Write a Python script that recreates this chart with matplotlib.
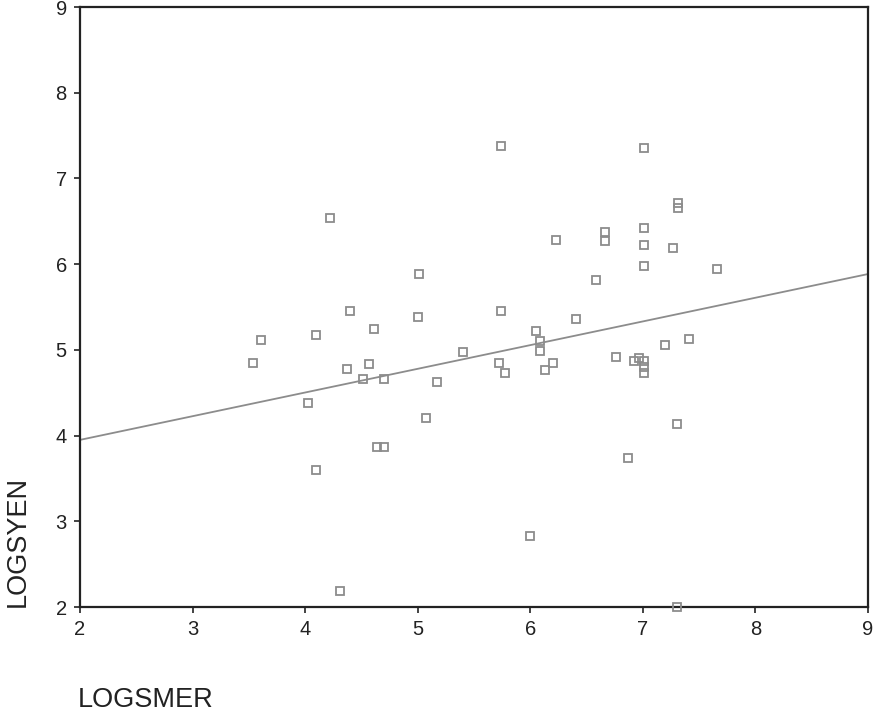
import matplotlib
matplotlib.use('Agg')
import matplotlib.pyplot as plt
import numpy as np

plt.rcParams['font.family'] = ['Liberation Sans', 'DejaVu Sans']

# Data (LOGSMER vs LOGSYEN)
logsmer = [5.74, 7.01, 4.22, 7.31, 7.31, 7.01, 6.66, 6.66, 6.23, 7.01,
           7.27, 7.01, 7.66, 5.01, 6.58, 5.74, 4.40, 5.00, 6.41, 4.61,
           6.05, 4.10, 3.61, 7.41, 6.09, 7.20, 6.09, 5.40, 6.76, 6.97,
           6.92, 7.01, 7.01, 7.01, 5.72, 6.20, 3.54, 4.57, 4.37, 6.13,
           5.78, 4.51, 4.70, 5.17, 4.03, 5.07, 7.30, 4.64, 4.70, 6.87,
           4.10, 6.00, 4.31, 7.30]
logsyen = [7.38, 7.35, 6.54, 6.71, 6.65, 6.42, 6.38, 6.27, 6.28, 6.22,
           6.19, 5.98, 5.94, 5.89, 5.82, 5.45, 5.45, 5.38, 5.36, 5.24,
           5.22, 5.17, 5.11, 5.13, 5.10, 5.06, 4.99, 4.97, 4.92, 4.91,
           4.87, 4.87, 4.80, 4.73, 4.85, 4.85, 4.85, 4.83, 4.78, 4.76,
           4.73, 4.66, 4.66, 4.62, 4.38, 4.20, 4.13, 3.87, 3.87, 3.74,
           3.60, 2.83, 2.19, 2.00]

# linear fit line as drawn in the chart
fit_intercept = 3.397
fit_slope = 0.2764

fig = plt.figure(figsize=(8.76, 7.17), dpi=100)
ax = fig.add_axes([0.0913, 0.1534, 0.8995, 0.8368])

xs = np.array([2, 9])
ax.plot(xs, fit_intercept + fit_slope * xs, color='#8c8c8c', lw=1.3, zorder=2)
ax.plot(logsmer, logsyen, linestyle='none', marker='s', markersize=6,
        markerfacecolor='none', markeredgecolor='#8c8c8c', markeredgewidth=1.3,
        clip_on=False, zorder=3)

ax.set_xlim(2, 9)
ax.set_ylim(2, 9)
ax.set_xticks(range(2, 10))
ax.set_yticks(range(2, 10))
ax.tick_params(direction='out', length=4.5, width=1.2, labelsize=14.5,
               colors='#222222', pad=5)
for s in ax.spines.values():
    s.set_linewidth(1.6)
    s.set_color('#222222')

fig.text(17.5 / 876, 0.1534, 'LOGSYEN', rotation=90, ha='center', va='bottom',
         fontsize=19.5, color='#222222')
fig.text(78 / 876, 1 - 707 / 717, 'LOGSMER', ha='left', va='baseline',
         fontsize=19.5, color='#222222')

fig.savefig('out.png', dpi=100)
